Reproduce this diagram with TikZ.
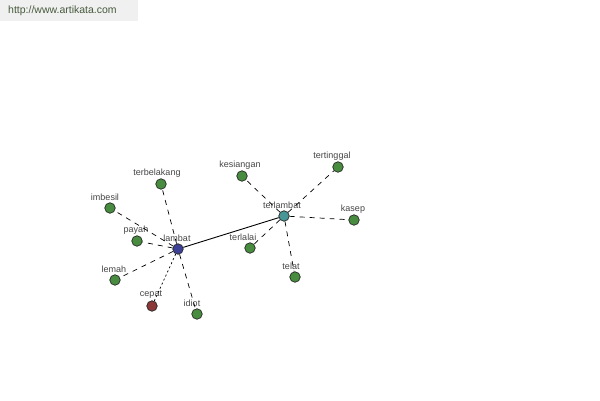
\documentclass[tikz,border=0pt]{standalone}
\usepackage{fontspec}
\setmainfont{Liberation Sans}
\begin{document}
\begin{tikzpicture}[x=1pt,y=-1pt,
  vtx/.style={circle,draw=black!85,line width=0.7pt,inner sep=0pt,minimum size=10.5pt},
  gv/.style={vtx,fill=grn},
  lbl/.style={font=\fontsize{9}{10}\selectfont,text=txtgray,inner sep=0pt},
  dsh/.style={line width=0.7pt,dash pattern=on 5pt off 5pt},
  dot/.style={line width=0.7pt,dash pattern=on 2pt off 2.5pt},
  sol/.style={line width=0.9pt}]
\definecolor{grn}{RGB}{72,140,64}
\definecolor{blu}{RGB}{60,64,150}
\definecolor{tea}{RGB}{72,150,150}
\definecolor{red}{RGB}{140,56,56}
\definecolor{txtgray}{RGB}{70,70,70}
\definecolor{wm}{RGB}{240,240,240}
\definecolor{wmtext}{RGB}{70,90,60}
\useasboundingbox (0,0) rectangle (600,400);
\fill[white] (0,0) rectangle (600,400);
\fill[wm] (0,0) rectangle (138,21);
\node[anchor=west,font=\fontsize{10.5}{11}\selectfont,text=wmtext,inner sep=0pt] (wmk) at (8,11) {http://www.artikata.com};

\node[vtx,fill=blu] (lambat) at (178,249) {};
\node[vtx,fill=tea] (terlambat) at (284,216) {};
\node[gv] (terbelakang) at (161,184) {};
\node[gv] (imbesil) at (110,208) {};
\node[gv] (payah) at (137,241) {};
\node[gv] (lemah) at (115,280) {};
\node[vtx,fill=red] (cepat) at (152,306) {};
\node[gv] (idiot) at (197,314) {};
\node[gv] (kesiangan) at (242,176) {};
\node[gv] (tertinggal) at (338,167) {};
\node[gv] (kasep) at (354,220) {};
\node[gv] (terlalai) at (250,248) {};
\node[gv] (telat) at (295,277) {};

\node[lbl] (l1) at (177,238) {lambat};
\node[lbl] (l2) at (282,205) {terlambat};
\node[lbl] (l3) at (157,173) {terbelakang};
\node[lbl] (l4) at (105,197) {imbesil};
\node[lbl] (l5) at (136,230) {payah};
\node[lbl] (l6) at (114,269) {lemah};
\node[lbl] (l7) at (151,295) {cepat};
\node[lbl] (l8) at (192,303) {idiot};
\node[lbl] (l9) at (240,165) {kesiangan};
\node[lbl] (l10) at (332,156) {tertinggal};
\node[lbl] (l11) at (353,209) {kasep};
\node[lbl] (l12) at (243,237) {terlalai};
\node[lbl] (l13) at (291,266) {telat};

\draw[sol] (lambat) -- (terlambat);
\draw[dsh] (lambat) -- (terbelakang);
\draw[dsh] (lambat) -- (imbesil);
\draw[dsh] (lambat) -- (payah);
\draw[dsh] (lambat) -- (lemah);
\draw[dot] (lambat) -- (cepat);
\draw[dsh] (lambat) -- (idiot);
\draw[dsh] (terlambat) -- (kesiangan);
\draw[dsh] (terlambat) -- (tertinggal);
\draw[dsh] (terlambat) -- (kasep);
\draw[dsh] (terlambat) -- (terlalai);
\draw[dsh] (terlambat) -- (telat);
\end{tikzpicture}
\end{document}
